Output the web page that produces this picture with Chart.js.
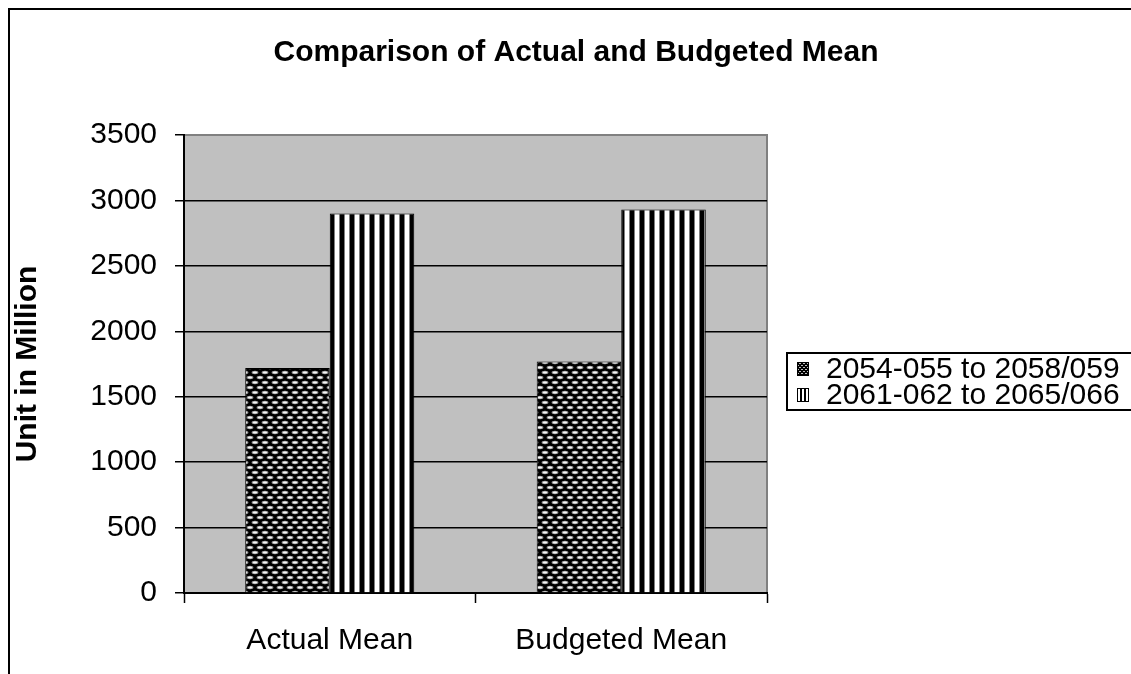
<!DOCTYPE html>
<html>
<head>
<meta charset="utf-8">
<script src="https://cdn.jsdelivr.net/npm/chart.js@4.4.1/dist/chart.umd.min.js"></script>
<style>
  html, body { margin: 0; padding: 0; background: #ffffff; }
  #wrap { position: relative; width: 1131px; height: 674px; }
</style>
</head>
<body>
<div id="wrap"><canvas id="chart" width="1131" height="674"></canvas></div>
<script>
// Data
const categories = ['Actual Mean', 'Budgeted Mean'];
const seriesLabels = ['2054-055 to 2058/059', '2061-062 to 2065/066'];
const periodA = [1720, 1770];
const periodB = [2900, 2930];
const yTicks = [0, 500, 1000, 1500, 2000, 2500, 3000, 3500];
const chartTitle = 'Comparison of Actual and Budgeted Mean';

const FONT = '"Liberation Sans", Arial, sans-serif';

// Dotted fill: light ovals on black in a brick layout
function dotPattern() {
  const c = document.createElement('canvas');
  c.width = 10; c.height = 10;
  const g = c.getContext('2d');
  g.fillStyle = '#000'; g.fillRect(0, 0, 10, 10);
  const oval = (cx, cy) => {
    g.fillStyle = '#9a9a9a';
    g.beginPath(); g.ellipse(cx, cy, 3.4, 1.7, 0, 0, Math.PI * 2); g.fill();
    g.fillStyle = '#f4f4f4';
    g.beginPath(); g.ellipse(cx, cy, 2.2, 1.0, 0, 0, Math.PI * 2); g.fill();
  };
  oval(5, 2.5);
  oval(0, 7.5); oval(10, 7.5);
  return g.createPattern(c, 'repeat');
}

// Vertical stripe fill
function stripePattern() {
  const c = document.createElement('canvas');
  c.width = 10; c.height = 4;
  const g = c.getContext('2d');
  g.fillStyle = '#ffffff'; g.fillRect(0, 0, 10, 4);
  g.fillStyle = '#000000'; g.fillRect(0, 0, 4, 4);
  g.fillStyle = '#808080'; g.fillRect(4, 0, 1, 4); g.fillRect(9, 0, 1, 4);
  return g.createPattern(c, 'repeat');
}

// Narrow stripes for the small legend key
function keyStripePattern() {
  const c = document.createElement('canvas');
  c.width = 4; c.height = 4;
  const g = c.getContext('2d');
  g.fillStyle = '#ffffff'; g.fillRect(0, 0, 4, 4);
  g.fillStyle = '#000000'; g.fillRect(0, 0, 2, 4);
  return g.createPattern(c, 'repeat');
}

function keyDotPattern() {
  const c = document.createElement('canvas');
  c.width = 4; c.height = 4;
  const g = c.getContext('2d');
  g.fillStyle = '#000'; g.fillRect(0, 0, 4, 4);
  g.fillStyle = '#bdbdbd'; g.fillRect(1, 1, 2, 1); g.fillRect(3, 3, 1, 1); g.fillRect(0, 3, 1, 1);
  return g.createPattern(c, 'repeat');
}

const fills = [dotPattern(), stripePattern()];
const keyFills = [keyDotPattern(), keyStripePattern()];

// Gray plot background with its top/right edges, plus the outer frame and title
const plotFrame = {
  id: 'plotFrame',
  beforeDraw(chart) {
    const { ctx, chartArea: a } = chart;
    ctx.save();
    ctx.fillStyle = '#c0c0c0';
    ctx.fillRect(a.left, a.top, a.right - a.left, a.bottom - a.top);
    ctx.strokeStyle = '#808080';
    ctx.lineWidth = 2;
    ctx.beginPath();
    ctx.moveTo(a.left, a.top);
    ctx.lineTo(a.right, a.top);
    ctx.lineTo(a.right, a.bottom);
    ctx.stroke();
    // outer frame (top and left edges)
    ctx.strokeStyle = '#000';
    ctx.lineWidth = 2;
    ctx.beginPath();
    ctx.moveTo(9, 680);
    ctx.lineTo(9, 9);
    ctx.lineTo(1140, 9);
    ctx.stroke();
    // title
    ctx.fillStyle = '#000';
    ctx.font = 'bold 30px ' + FONT;
    ctx.textAlign = 'center';
    ctx.textBaseline = 'middle';
    ctx.fillText(chartTitle, 576, 53);
    ctx.restore();
  }
};

// Boxed legend on the right
const boxLegend = {
  id: 'boxLegend',
  afterDraw(chart) {
    const { ctx } = chart;
    const box = { x: 787, y: 353, w: 400, h: 57 };
    const rows = [369, 395];
    ctx.save();
    ctx.strokeStyle = '#000';
    ctx.lineWidth = 2;
    ctx.strokeRect(box.x, box.y, box.w, box.h);
    ctx.font = '30px ' + FONT;
    ctx.textBaseline = 'middle';
    ctx.textAlign = 'left';
    chart.data.datasets.forEach((ds, i) => {
      const cy = rows[i];
      ctx.fillStyle = keyFills[i];
      ctx.fillRect(797, cy - 7, 12, 14);
      ctx.strokeStyle = '#000';
      ctx.lineWidth = 1;
      ctx.strokeRect(797.5, cy - 6.5, 11, 13);
      ctx.fillStyle = '#000';
      ctx.fillText(ds.label, 826, cy + 1);
    });
    ctx.restore();
  }
};

new Chart(document.getElementById('chart'), {
  type: 'bar',
  data: {
    labels: categories,
    datasets: [
      { label: seriesLabels[0], data: periodA, backgroundColor: fills[0], borderColor: '#000', borderWidth: 1 },
      { label: seriesLabels[1], data: periodB, backgroundColor: fills[1], borderColor: '#000', borderWidth: 1 }
    ]
  },
  options: {
    responsive: false,
    animation: false,
    devicePixelRatio: 1,
    layout: { padding: { left: 0, right: 364, top: 135, bottom: 0 } },
    datasets: { bar: { categoryPercentage: 0.58, barPercentage: 1.0 } },
    plugins: {
      legend: { display: false },
      tooltip: { enabled: false },
      title: { display: false }
    },
    scales: {
      x: {
        offset: true,
        afterFit(scale) { scale.height = 81; },
        grid: { display: true, drawOnChartArea: false, drawTicks: true, tickLength: 10, tickColor: '#000', tickWidth: 1.5, offset: true },
        border: { display: true, color: '#000', width: 2 },
        ticks: { color: '#000', font: { family: FONT, size: 30 }, padding: 20 }
      },
      y: {
        min: 0,
        max: 3500,
        afterFit(scale) { scale.width = 184; },
        afterBuildTicks(scale) { scale.ticks = yTicks.map(v => ({ value: v })); },
        grid: {
          color: (c) => (c.tick && c.tick.value === 3500 ? 'rgba(0,0,0,0)' : '#000'),
          lineWidth: 1.5,
          drawTicks: true,
          tickLength: 9,
          tickColor: '#000',
          tickWidth: 1.5
        },
        border: { display: true, color: '#000', width: 2 },
        ticks: {
          color: '#000',
          font: { family: FONT, size: 30 },
          padding: 18,
          callback: (v) => String(v)
        },
        title: {
          display: true,
          text: 'Unit in Million',
          color: '#000',
          font: { family: FONT, size: 30, weight: 'bold' },
          padding: { top: 10, bottom: 0 }
        }
      }
    }
  },
  plugins: [plotFrame, boxLegend]
});
</script>
</body>
</html>
